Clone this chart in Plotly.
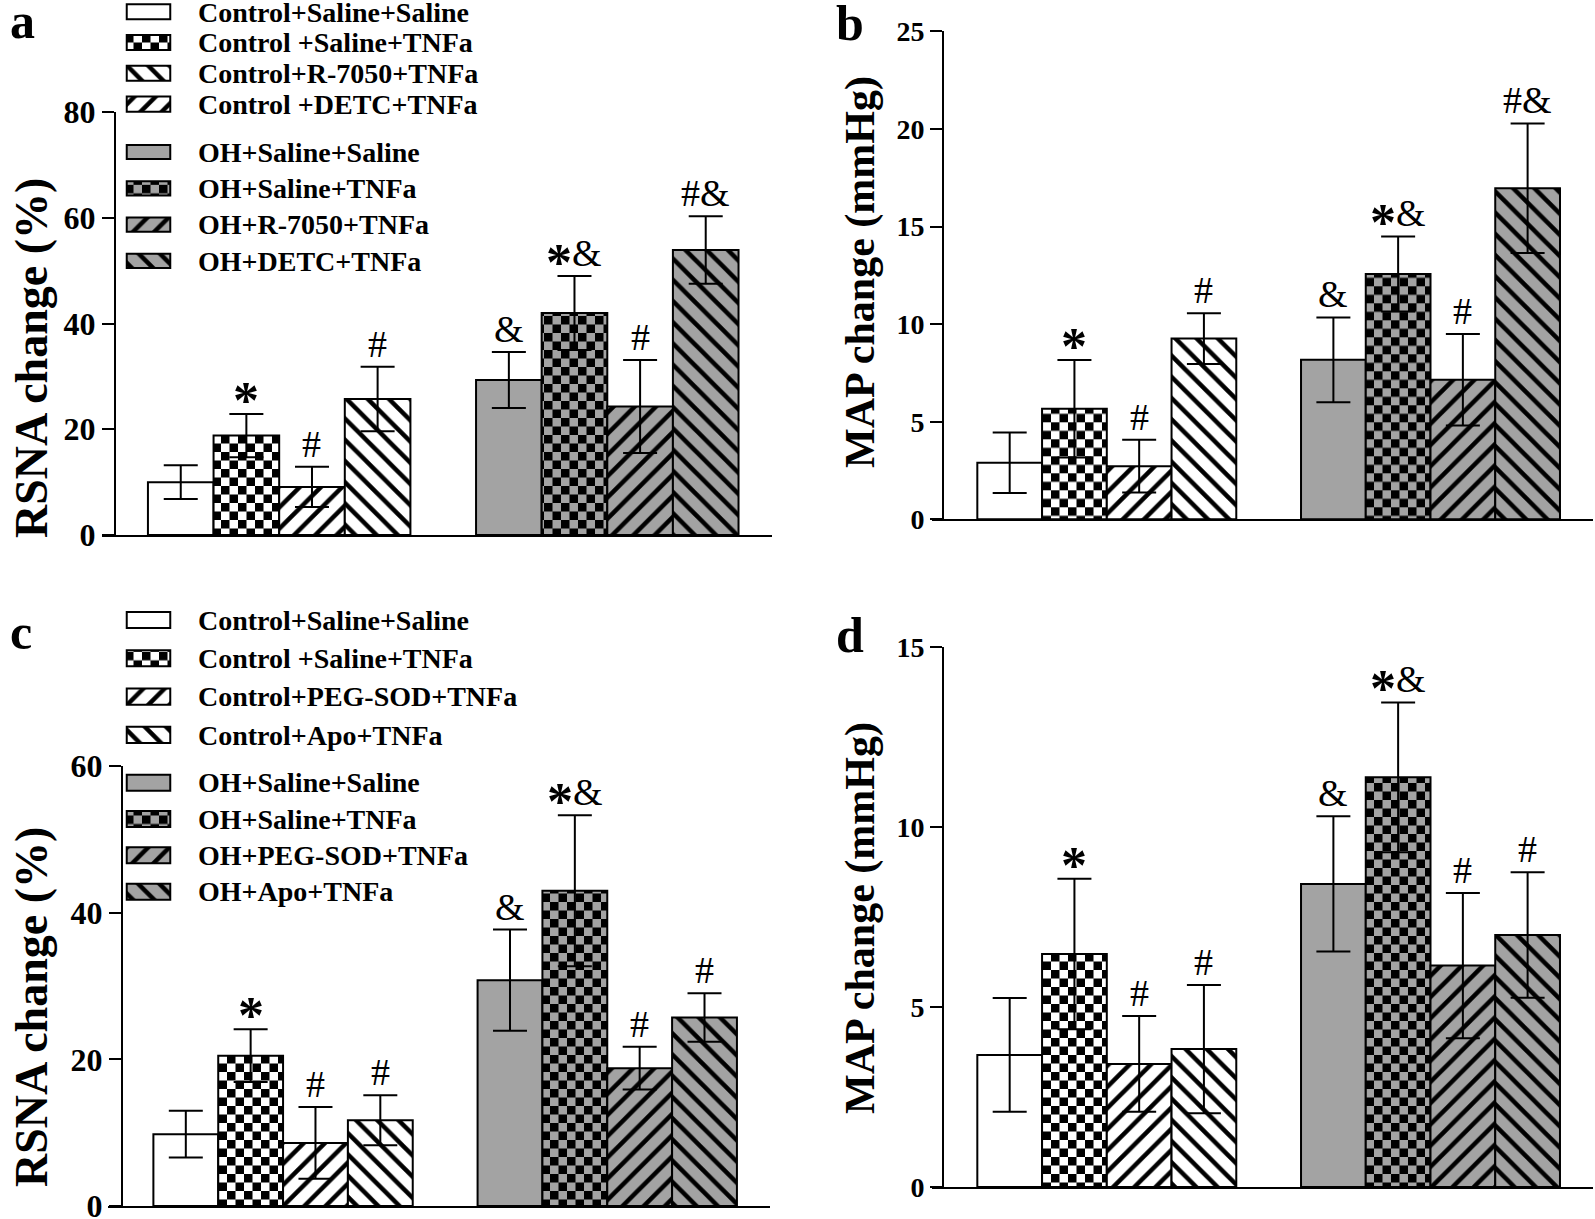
import plotly.graph_objects as go
import plotly.io as pio

pio.templates.default = "simple_white"

W, H = 1595, 1219
SERIF = "Liberation Serif, Times New Roman, serif"
GRAY = "#a3a3a3"

# %%
# data (mean and error bar of each column)
GROUPS = ["Control", "OH"]

a_mean = [10.0, 18.8, 9.1, 25.7, 29.3, 42.0, 24.3, 53.9]
a_err = [3.2, 4.1, 3.8, 6.1, 5.3, 7.0, 8.8, 6.4]
a_marks = ["", "*", "#", "#", "&", "*&", "#", "#&"]

b_mean = [2.9, 5.66, 2.72, 9.26, 8.17, 12.57, 7.15, 16.96]
b_err = [1.55, 2.5, 1.35, 1.3, 2.17, 1.92, 2.34, 3.32]
b_marks = ["", "*", "#", "#", "&", "*&", "#", "#&"]

c_mean = [9.8, 20.5, 8.6, 11.7, 30.8, 43.0, 18.8, 25.7]
c_err = [3.2, 3.6, 4.9, 3.4, 6.9, 10.3, 2.9, 3.3]
c_marks = ["", "*", "#", "#", "&", "*&", "#", "#"]

d_mean = [3.67, 6.47, 3.42, 3.83, 8.42, 11.38, 6.15, 7.0]
d_err = [1.58, 2.09, 1.33, 1.78, 1.88, 2.08, 2.02, 1.74]
d_marks = ["", "*", "#", "#", "&", "*&", "#", "#"]

a_legend_ctrl = ["Control+Saline+Saline", "Control +Saline+TNFa",
                 "Control+R-7050+TNFa", "Control +DETC+TNFa"]
a_legend_oh = ["OH+Saline+Saline", "OH+Saline+TNFa", "OH+R-7050+TNFa", "OH+DETC+TNFa"]
c_legend_ctrl = ["Control+Saline+Saline", "Control +Saline+TNFa",
                 "Control+PEG-SOD+TNFa", "Control+Apo+TNFa"]
c_legend_oh = ["OH+Saline+Saline", "OH+Saline+TNFa", "OH+PEG-SOD+TNFa", "OH+Apo+TNFa"]


def fx(px):
    return px / W


def fy(py):
    return 1 - py / H


# %%
# patterns: checkerboard needs a custom path if this plotly has it
try:
    go.bar.marker.Pattern(path="M0,0H1V1H0Z")
    HAS_PATH = True
except ValueError:
    HAS_PATH = False


def pattern(kind, bg):
    if kind == "":
        return dict(shape="")
    if kind == "checker":
        if HAS_PATH:
            s = 17
            h = s / 2
            return dict(path=f"M0,0H{h}V{h}H0ZM{h},{h}H{s}V{s}H{h}Z", size=s, solidity=1,
                        fgcolor="black", bgcolor=bg, fillmode="replace")
        return dict(shape="+", size=12, solidity=0.5, fgcolor=bg, bgcolor="black",
                    fillmode="replace")
    return dict(shape=kind, size=15, solidity=0.3, fgcolor="black", bgcolor=bg,
                fillmode="replace")


def mark_text(m):
    # the asterisk is drawn big, bold and sitting low in the original
    return m.replace("*", "<b><span style='font-size:52px;baseline-shift:-14px'>*</span></b>")


SLOT_STYLE = ["", "checker", "/", "\\"]
FILL = {"Control": "white", "OH": GRAY}
BARGAP = 0.2

PANELS = [
    dict(mean=a_mean, err=a_err, marks=a_marks, letter="a", title="RSNA change (%)",
         xline=(102, 772), yx=115, y0=535, ytop=112, top=80, dtick=20, tsize=32,
         title_xy=(31, 358), title_size=46, letter_xy=(8, 21)),
    dict(mean=b_mean, err=b_err, marks=b_marks, letter="b", title="MAP change (mmHg)",
         xline=(932, 1593), yx=943, y0=519.3, ytop=31.3, top=25, dtick=5, tsize=28,
         title_xy=(860, 272), title_size=42, letter_xy=(834, 23)),
    dict(mean=c_mean, err=c_err, marks=c_marks, letter="c", title="RSNA change (%)",
         xline=(108, 770), yx=122, y0=1206, ytop=766, top=60, dtick=20, tsize=32,
         title_xy=(31, 1007), title_size=46, letter_xy=(8, 632)),
    dict(mean=d_mean, err=d_err, marks=d_marks, letter="d", title="MAP change (mmHg)",
         xline=(932, 1593), yx=943, y0=1187, ytop=647, top=15, dtick=5, tsize=28,
         title_xy=(860, 918), title_size=42, letter_xy=(834, 635)),
]

fig = go.Figure()
annotations = []
layout = {}

for i, p in enumerate(PANELS, start=1):
    sfx = "" if i == 1 else str(i)
    xa, ya = "x" + sfx, "y" + sfx
    for gi, g in enumerate(GROUPS):
        for k in range(4):
            j = gi * 4 + k
            fill = FILL[g]
            fig.add_trace(go.Bar(
                x=[g], y=[p["mean"][j]], xaxis=xa, yaxis=ya, offsetgroup=str(k),
                marker=dict(color=fill, line=dict(color="black", width=2),
                            pattern=pattern(SLOT_STYLE[k], fill)),
                error_y=dict(type="data", array=[p["err"][j]], color="black",
                             thickness=2, width=17),
                showlegend=False, hoverinfo="skip",
            ))
            m = p["marks"][j]
            if m:
                annotations.append(dict(
                    x=gi + (k - 1.5) * (1 - BARGAP) / 4, y=p["mean"][j] + p["err"][j],
                    xref=xa, yref=ya, text=mark_text(m), showarrow=False,
                    xanchor="center", yanchor="bottom", yshift=-17 if "*" in m else 0,
                    font=dict(family=SERIF, size=38, color="black"),
                ))
    layout["xaxis" + sfx] = dict(
        domain=[fx(p["xline"][0]), fx(p["xline"][1])], anchor=ya, type="category",
        range=[-0.54, 1.502], showline=True, linecolor="black", linewidth=2,
        ticks="", showticklabels=False, showgrid=False, zeroline=False, automargin=False,
    )
    layout["yaxis" + sfx] = dict(
        domain=[fy(p["y0"]), fy(p["ytop"])], anchor="free", position=fx(p["yx"]),
        range=[0, p["top"]], tickmode="linear", tick0=0, dtick=p["dtick"],
        showline=True, linecolor="black", linewidth=2, ticks="outside", ticklen=12,
        tickwidth=2, tickcolor="black", showgrid=False, zeroline=False, automargin=False,
        ticklabeloverflow="allow",
        tickfont=dict(family=SERIF, size=p["tsize"], color="black", weight="bold"),
    )
    annotations.append(dict(
        x=fx(p["title_xy"][0]), y=fy(p["title_xy"][1]), xref="paper", yref="paper",
        text=p["title"], textangle=-90, showarrow=False, xanchor="center", yanchor="middle",
        font=dict(family=SERIF, size=p["title_size"], color="black", weight="bold"),
    ))
    annotations.append(dict(
        x=fx(p["letter_xy"][0]), y=fy(p["letter_xy"][1]), xref="paper", yref="paper",
        text=p["letter"], showarrow=False, xanchor="left", yanchor="middle",
        font=dict(family=SERIF, size=50, color="black", weight="bold"),
    ))

# %%
# legend blocks drawn as small horizontal bars with their labels as tick text
LEGENDS = [
    dict(labels=a_legend_ctrl, kinds=["", "checker", "\\", "/"], fill="white",
         dom=(0, 123.2), rng=[3.62, -0.38], bw=0.49),
    dict(labels=a_legend_oh, kinds=["", "checker", "/", "\\"], fill=GRAY,
         dom=(133.85, 279.05), rng=[3.5, -0.5], bw=0.39),
    dict(labels=c_legend_ctrl, kinds=["", "checker", "/", "\\"], fill="white",
         dom=(600.85, 754.05), rng=[3.5, -0.5], bw=0.42),
    dict(labels=c_legend_oh, kinds=["", "checker", "/", "\\"], fill=GRAY,
         dom=(764.5, 909.8), rng=[3.5, -0.5], bw=0.44),
]

for n, lg in enumerate(LEGENDS, start=5):
    xa, ya = f"x{n}", f"y{n}"
    for lab, kind in zip(lg["labels"], lg["kinds"]):
        fig.add_trace(go.Bar(
            x=[1], y=[lab], orientation="h", width=lg["bw"], xaxis=xa, yaxis=ya,
            marker=dict(color=lg["fill"], line=dict(color="black", width=2),
                        pattern=pattern(kind, lg["fill"])),
            showlegend=False, hoverinfo="skip",
        ))
    layout[f"xaxis{n}"] = dict(domain=[fx(125), fx(172)], anchor=ya, range=[-0.04, 1.04],
                               visible=False, automargin=False)
    layout[f"yaxis{n}"] = dict(
        domain=[fy(lg["dom"][1]), fy(lg["dom"][0])], anchor=xa, type="category",
        range=lg["rng"], side="right", ticks="", showline=False, showgrid=False,
        zeroline=False, ticklabelstandoff=25, automargin=False, ticklabeloverflow="allow",
        tickmode="array", tickvals=lg["labels"], ticktext=lg["labels"],
        tickfont=dict(family=SERIF, size=28, color="black", weight="bold"),
    )

fig.update_layout(
    width=W, height=H, margin=dict(l=0, r=0, t=0, b=0, autoexpand=False),
    paper_bgcolor="white", plot_bgcolor="rgba(0,0,0,0)",
    barmode="group", bargap=BARGAP, bargroupgap=0, showlegend=False,
    annotations=annotations, **layout,
)

# the page's default body margin would push the figure 8 px off the window
fig.write_html("out.html", config={"displayModeBar": False},
               post_script="document.body.style.margin = '0';")
